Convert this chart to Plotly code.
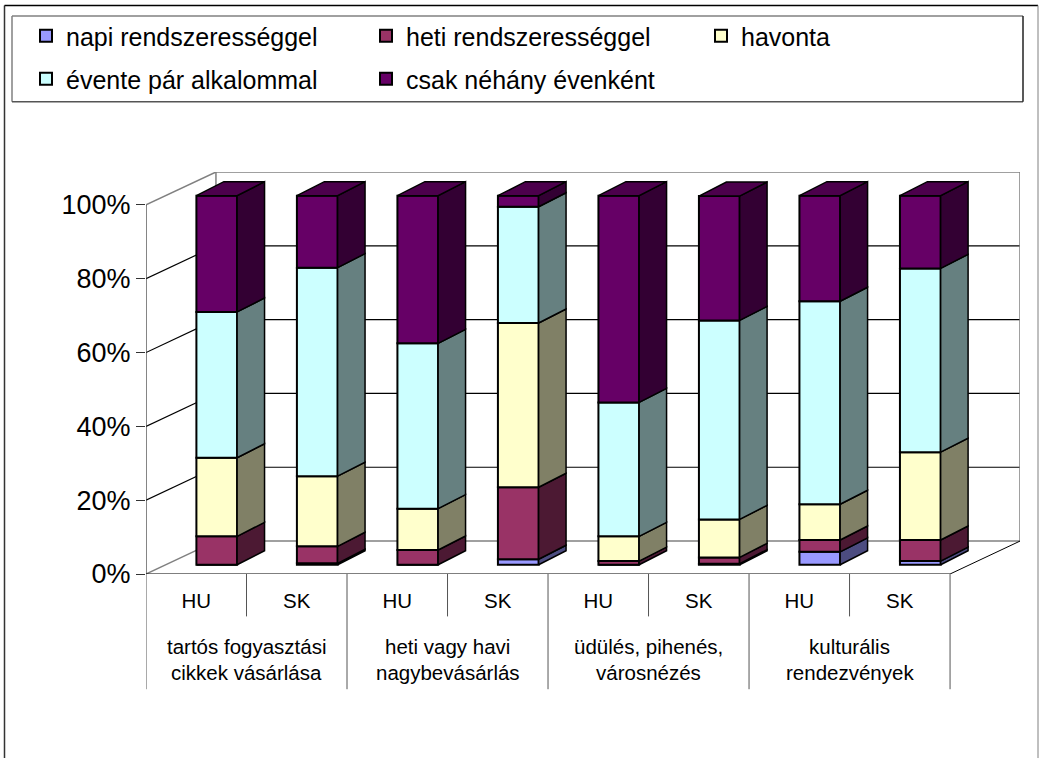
import plotly.graph_objects as go

# ---------- data (percent) ----------
countries = ["HU", "SK", "HU", "SK", "HU", "SK", "HU", "SK"]
group_line1 = ["tartós fogyasztási", "heti vagy havi", "üdülés, pihenés,", "kulturális"]
group_line2 = ["cikkek vásárlása", "nagybevásárlás", "városnézés", "rendezvények"]
series_names = ["napi rendszerességgel", "heti rendszerességgel", "havonta",
                "évente pár alkalommal", "csak néhány évenként"]
napi    = [0.0, 0.4, 0.0, 1.5, 0.0, 0.3, 3.5, 1.0]
heti    = [7.7, 4.6, 4.0, 19.5, 1.0, 1.7, 3.2, 5.7]
havonta = [21.3, 19.0, 11.2, 44.5, 6.7, 10.3, 9.7, 23.8]
evente  = [39.5, 56.5, 44.8, 31.5, 36.3, 53.9, 55.0, 49.8]
csak    = [31.5, 19.5, 40.0, 3.0, 56.0, 33.7, 28.6, 19.7]
series_values = [napi, heti, havonta, evente, csak]
y_ticks = [0, 20, 40, 60, 80, 100]
y_tick_labels = ["0%", "20%", "40%", "60%", "80%", "100%"]

# ---------- styles ----------
front_colors = ["#9999FF", "#993366", "#FFFFCC", "#CCFFFF", "#660066"]
side_colors = ["#4C4C80", "#4C1933", "#808066", "#668080", "#330033"]
top_color = "#4C004C"
FONT = "Liberation Sans"
W, H = 1039, 759
L, R, T, B = 146, 1020, 171.5, 574.5

# 3-D projection in axis units
WALL_X, WALL_Y = 0.696, 8.92          # full depth of the floor
BAR_OFF_X, BAR_OFF_Y = 0.204, 2.5     # front plane of the bars
BAR_D_X, BAR_D_Y = 0.273, 3.8         # depth of one bar
BAR_W = 0.405
N = len(countries)

def px(x):  # pixel to paper
    return (x - L) / (R - L)
def py(y):
    return (B - y) / (B - T)

fig = go.Figure()

legend_pos = [(26, 36), (366, 36), (701, 36), (26, 79), (366, 79)]
cum = [0.0] * N
legend_layout = {}
side_traces = []
for s, (name, vals) in enumerate(zip(series_names, series_values)):
    xs = [i + 0.5 + BAR_OFF_X for i in range(N)]
    ref = "legend" if s == 0 else f"legend{s + 1}"
    fig.add_trace(go.Bar(
        x=xs, y=vals, base=[c + BAR_OFF_Y for c in cum], width=BAR_W, name=name,
        marker=dict(color=front_colors[s], line=dict(color="black", width=2)),
        legend=ref, hoverinfo="skip", showlegend=True))
    lx, ly = legend_pos[s]
    legend_layout[ref] = dict(
        x=lx / W, y=1 - ly / H, xref="container", yref="container",
        xanchor="left", yanchor="middle", bgcolor="rgba(0,0,0,0)", borderwidth=0,
        font=dict(family=FONT, size=25, color="black"))
    for i in range(N):
        v = vals[i]
        if v <= 0:
            continue
        xr = xs[i] + BAR_W / 2
        y0 = cum[i] + BAR_OFF_Y
        y1 = y0 + v
        side_traces.append(go.Scatter(
            x=[xr, xr + BAR_D_X, xr + BAR_D_X, xr, xr],
            y=[y0, y0 + BAR_D_Y, y1 + BAR_D_Y, y1, y0],
            mode="lines", fill="toself", fillcolor=side_colors[s],
            line=dict(color="black", width=1.5), showlegend=False, hoverinfo="skip"))
        if s == len(series_values) - 1:
            xl = xs[i] - BAR_W / 2
            side_traces.append(go.Scatter(
                x=[xl, xl + BAR_D_X, xr + BAR_D_X, xr, xl],
                y=[y1, y1 + BAR_D_Y, y1 + BAR_D_Y, y1, y1],
                mode="lines", fill="toself", fillcolor=top_color,
                line=dict(color="black", width=1.5), showlegend=False, hoverinfo="skip"))
    cum = [c + v for c, v in zip(cum, vals)]
fig.add_traces(side_traces)

shapes = []
def seg(x0, y0, x1, y1, color, width):
    shapes.append(dict(type="line", xref="x", yref="y", x0=x0, y0=y0, x1=x1, y1=y1,
                       line=dict(color=color, width=width), layer="below"))
def pixline(x0, y0, x1, y1, color, width):
    shapes.append(dict(type="line", xref="paper", yref="paper", x0=px(x0), y0=py(y0), x1=px(x1), y1=py(y1),
                       line=dict(color=color, width=width), layer="below"))

GREY = "#808080"
for v in y_ticks[1:-1]:
    seg(0, v, WALL_X, v + WALL_Y, "black", 1.2)
    seg(WALL_X, v + WALL_Y, N + WALL_X, v + WALL_Y, "black", 1.2)
seg(0, 100, WALL_X, 100 + WALL_Y, GREY, 1.5)
seg(WALL_X, 100 + WALL_Y, N + WALL_X, 100 + WALL_Y, GREY, 1.5)
seg(WALL_X, WALL_Y, WALL_X, 100 + WALL_Y, GREY, 1.5)
seg(N + WALL_X, WALL_Y, N + WALL_X, 100 + WALL_Y, GREY, 1.5)
seg(0, 0, WALL_X, WALL_Y, GREY, 1.5)
seg(WALL_X, WALL_Y, N + WALL_X, WALL_Y, GREY, 1.5)
seg(0, 0, N, 0, "black", 1.2)
seg(N, 0, N + WALL_X, WALL_Y, "black", 1)
seg(0, 0, 0, 100, "#333333", 1.2)

# category separators under the axis
for k in range(N + 1):
    bottom = 690 if k % 2 == 0 else 617
    shapes.append(dict(type="line", xref="x", yref="paper", x0=k, x1=k, y0=0, y1=py(bottom),
                       line=dict(color="#555555", width=1)))
# chart frame (open at the bottom of the picture) and legend box
pixline(4.5, 4.5, 4.5, 759, "#333333", 1.5)
pixline(4.5, 4.5, 1038, 4.5, "black", 1.5)
pixline(1038, 4.5, 1038, 759, "#808080", 1)
pixline(12, 15, 1023, 15, GREY, 1.5)
pixline(12, 15, 12, 101, GREY, 1.5)
pixline(12, 101, 1023, 101, "#555555", 1.5)
pixline(1023, 15, 1023, 101, "#222222", 1.5)

annotations = []
for g in range(4):
    for text, ypix in ((group_line1[g], 647), (group_line2[g], 673)):
        annotations.append(dict(x=2 * g + 1, y=py(ypix), xref="x", yref="paper", text=text,
                                showarrow=False, xanchor="center", yanchor="middle",
                                font=dict(family=FONT, size=20.5, color="black")))

fig.update_layout(
    width=W, height=H, barmode="overlay", paper_bgcolor="white", plot_bgcolor="white",
    margin=dict(l=L, r=W - R, t=T, b=H - B, pad=0, autoexpand=False),
    shapes=shapes, annotations=annotations,
    xaxis=dict(range=[0, N + WALL_X], tickvals=[i + 0.5 for i in range(N)], ticktext=countries,
               showgrid=False, zeroline=False, showline=False, ticks="outside", ticklen=8,
               tickcolor="rgba(0,0,0,0)", tickfont=dict(family=FONT, size=20.5, color="black")),
    yaxis=dict(range=[0, 100 + WALL_Y], tickvals=y_ticks, ticktext=y_tick_labels, showgrid=False,
               zeroline=False, showline=False, ticks="outside", ticklen=9, tickcolor="#333333",
               tickfont=dict(family=FONT, size=27, color="black")),
    **legend_layout,
)

fig.write_html("out.html", config=dict(displayModeBar=False),
               post_script="document.body.style.margin='0';document.body.style.overflow='hidden';")
